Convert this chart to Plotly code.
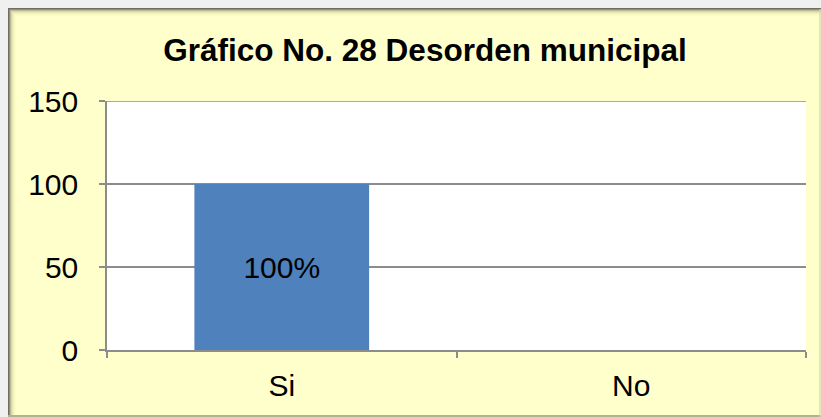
import plotly.graph_objects as go

categories = ["Si", "No"]
values = [100, 0]
labels = ["100%", ""]
title_text = "Gráfico No. 28 Desorden municipal"
y_ticks = [0, 50, 100, 150]

W, H = 821, 417
L, R, T, B = 107, 15, 101, 67
PW, PH = W - L - R, H - T - B

def px(x):
    return (x - L) / PW

def py(y):
    return (H - B - y) / PH

FONT = "Liberation Sans, Arial"

fig = go.Figure(go.Bar(
    x=categories, y=values, text=labels,
    textposition="inside", insidetextanchor="middle",
    textfont=dict(size=30, color="black", family=FONT),
    marker=dict(color="#4F81BD", line=dict(width=0)),
    width=0.5, hoverinfo="skip",
))

shapes = []
shapes.append(dict(type="rect", xref="paper", yref="paper", x0=px(0), x1=px(W), y0=py(0), y1=py(8),
                   fillcolor="#F0F0F0", line=dict(width=0), layer="above"))
shapes.append(dict(type="rect", xref="paper", yref="paper", x0=px(0), x1=px(8), y0=py(0), y1=py(H),
                   fillcolor="#F0F0F0", line=dict(width=0), layer="above"))
grad = [("#6E6E64", 1.0), ("#8F8F78", 1.0), ("#B4B490", 0.9), ("#CDCDA0", 0.8),
        ("#DEDEAE", 0.7), ("#EAEAB8", 0.6), ("#F3F3C0", 0.5), ("#F8F8C6", 0.4)]
for i, (c, op) in enumerate(grad):
    shapes.append(dict(type="line", xref="paper", yref="paper", x0=px(8 + i), x1=px(W), y0=py(8.5 + i), y1=py(8.5 + i),
                       line=dict(color=c, width=1), opacity=op, layer="above"))
    shapes.append(dict(type="line", xref="paper", yref="paper", x0=px(8.5 + i), x1=px(8.5 + i), y0=py(9 + i), y1=py(H - 2),
                       line=dict(color=c, width=1), opacity=op, layer="above"))
shapes.append(dict(type="line", xref="paper", yref="paper", x0=px(8), x1=px(W), y0=py(H - 1), y1=py(H - 1),
                   line=dict(color="#A0A080", width=2), opacity=0.8, layer="above"))
shapes.append(dict(type="line", xref="paper", yref="paper", x0=px(W - 1), x1=px(W - 1), y0=py(9), y1=py(H),
                   line=dict(color="#D8D8A8", width=2), opacity=0.6, layer="above"))
# top gridline at the upper boundary of the value axis (150)
shapes.append(dict(type="line", xref="paper", yref="y", x0=0, x1=1, y0=y_ticks[-1], y1=y_ticks[-1],
                   line=dict(color="#8C8C8C", width=1.5), layer="above"))

fig.update_layout(
    width=W, height=H,
    margin=dict(l=L, r=R, t=T, b=B, pad=0),
    paper_bgcolor="#FFFFCC",
    plot_bgcolor="white",
    showlegend=False,
    bargap=0.5,
    font=dict(family=FONT, color="black", size=30),
    title=dict(text="<b>" + title_text + "</b>", x=px(425), xref="paper", xanchor="center",
               y=1 - 50 / H, yanchor="middle", font=dict(size=31.5, color="black", family=FONT)),
    shapes=shapes,
)

fig.update_xaxes(
    type="category", tickson="boundaries", ticks="outside", ticklen=6, tickcolor="#8C8C8C", tickwidth=1.5,
    showline=True, linecolor="#8C8C8C", linewidth=1.5, showgrid=False,
    tickfont=dict(size=30), ticklabelstandoff=8,
)
fig.update_yaxes(
    range=[0, 150], tickvals=y_ticks, ticks="outside", ticklen=6, tickcolor="#8C8C8C", tickwidth=1.5,
    showline=True, linecolor="#8C8C8C", linewidth=1.5,
    showgrid=True, gridcolor="#8C8C8C", gridwidth=1.5, zeroline=False,
    tickfont=dict(size=30), ticklabelstandoff=15,
)

fig.write_html("out.html", config={"displayModeBar": False},
               post_script="document.body.style.margin='0';document.body.style.overflow='hidden';")
